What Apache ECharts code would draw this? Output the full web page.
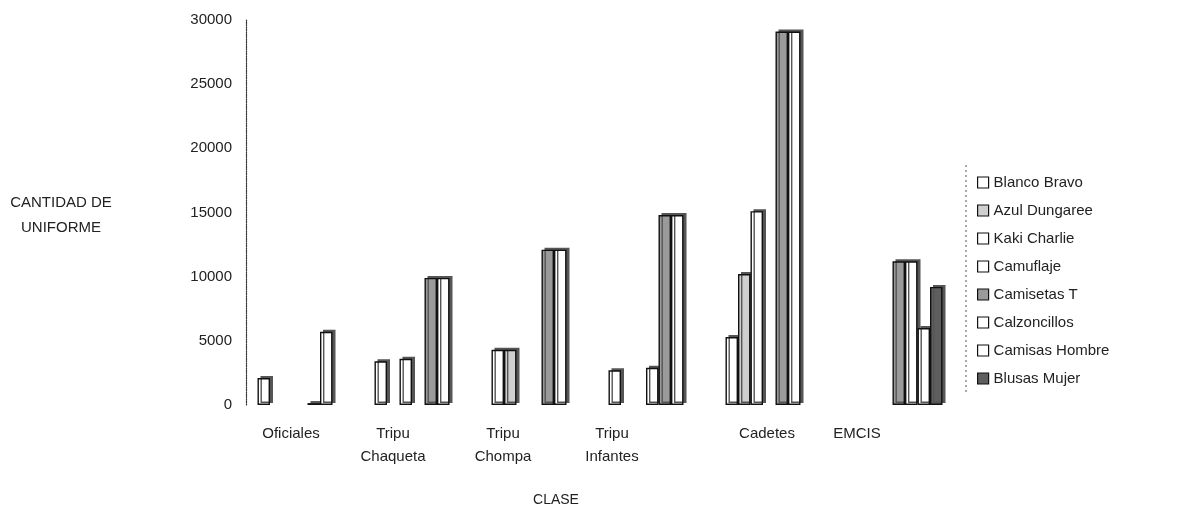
<!DOCTYPE html>
<html>
<head>
<meta charset="utf-8">
<script src="https://cdn.jsdelivr.net/npm/echarts@6/dist/echarts.min.js"></script>
<style>
  html, body { margin: 0; padding: 0; background: #fff; }
  #chart { width: 1184px; height: 530px; }
</style>
</head>
<body>
<div id="chart"></div>
<script>
// categorias (eje X)
var categories = ["Oficiales", "Tripu\nChaqueta", "Tripu\nChompa", "Tripu\nInfantes", "Cadetes", "EMCIS"];
var yTicks = [0, 5000, 10000, 15000, 20000, 25000, 30000];

// cantidades por tipo de uniforme (null = sin barra)
var blancoBravo   = [2100, 3400, 4300, 2700, 5300, null];
var azulDungaree  = [null, null, 4300, null, 10200, null];
var kakiCharlie   = [null, 3600, null, null, 15100, null];
var camuflaje     = [null, null, null, 2900, null, null];
var camisetasT    = [150, 9900, 12100, 14800, 29100, 11200];
var calzoncillos  = [5700, 9900, 12100, 14800, 29100, 11200];
var camisasHombre = [null, null, null, null, null, 6000];
var blusasMujer   = [null, null, null, null, null, 9200];

var seriesNames = ["Blanco Bravo", "Azul Dungaree", "Kaki Charlie", "Camuflaje",
  "Camisetas T", "Calzoncillos", "Camisas Hombre", "Blusas Mujer"];
var seriesData = [blancoBravo, azulDungaree, kakiCharlie, camuflaje,
  camisetasT, calzoncillos, camisasHombre, blusasMujer];
var fills = ["#ffffff", "#cfcfcf", "#ffffff", "#ffffff",
  "#9a9a9a", "#ffffff", "#ffffff", "#5e5e5e"];

var font = "Liberation Sans, Arial, sans-serif";

var chart = echarts.init(document.getElementById("chart"));

var series = seriesNames.map(function (name, i) {
  return {
    name: name,
    type: "bar",
    data: seriesData[i],
    barWidth: 12.5,
    barGap: "0%",
    itemStyle: {
      color: fills[i],
      borderColor: "#111",
      borderWidth: 1.4,
      // pseudo cara lateral 3D
      shadowColor: "#555",
      shadowOffsetX: 3,
      shadowOffsetY: -2,
      shadowBlur: 0
    }
  };
});

// las etiquetas del eje X van corridas a la izquierda (perspectiva 3D del original)
var labelRich = {};
[33, 63, 77, 93, 17, 71].forEach(function (p, i) {
  labelRich["c" + i] = { fontFamily: font, fontSize: 15, color: "#222", lineHeight: 23, padding: [0, p, 0, 0] };
});

var option = {
  backgroundColor: "#fff",
  animation: false,
  grid: { left: 249, right: 233, top: 20, bottom: 125 },
  legend: {
    orient: "vertical",
    left: 972,
    top: 170,
    itemWidth: 11,
    itemHeight: 11,
    itemGap: 13,
    icon: "rect",
    data: seriesNames,
    textStyle: { fontFamily: font, fontSize: 15, color: "#222" },
    itemStyle: { borderWidth: 1.2, shadowColor: "transparent", shadowOffsetX: 0, shadowOffsetY: 0 }
  },
  xAxis: {
    type: "category",
    data: categories,
    name: "CLASE",
    nameLocation: "middle",
    nameGap: 88,
    nameTextStyle: { fontFamily: font, fontSize: 14, color: "#222", padding: [0, 88, 0, 0] },
    axisLine: { show: false },
    axisTick: { show: false },
    axisLabel: {
      interval: 0,
      hideOverlap: false,
      margin: 17,
      fontFamily: font,
      fontSize: 15,
      color: "#222",
      lineHeight: 23,
      formatter: function (v, idx) {
        var s = "c" + idx;
        return v.split("\n").map(function (t) { return "{" + s + "|" + t + "}"; }).join("\n");
      },
      rich: labelRich
    }
  },
  yAxis: {
    type: "value",
    min: yTicks[0],
    max: yTicks[yTicks.length - 1],
    interval: 5000,
    offset: 3,
    axisLine: { show: true, lineStyle: { color: "#333", type: "dotted", width: 1.2 } },
    axisTick: { show: false },
    splitLine: { show: false },
    axisLabel: {
      margin: 14,
      fontFamily: font,
      fontSize: 15,
      color: "#222",
      formatter: function (v) { return String(v); }
    }
  },
  graphic: [
    {
      type: "text",
      x: 61,
      y: 190,
      style: {
        text: "CANTIDAD DE\nUNIFORME",
        fontFamily: font,
        fontSize: 15,
        lineHeight: 25,
        fill: "#222",
        align: "center"
      }
    },
    {
      type: "line",
      shape: { x1: 966, y1: 165, x2: 966, y2: 395 },
      style: { stroke: "#555", lineWidth: 1, lineDash: [2, 3] }
    }
  ],
  series: series
};

chart.setOption(option);
</script>
</body>
</html>
